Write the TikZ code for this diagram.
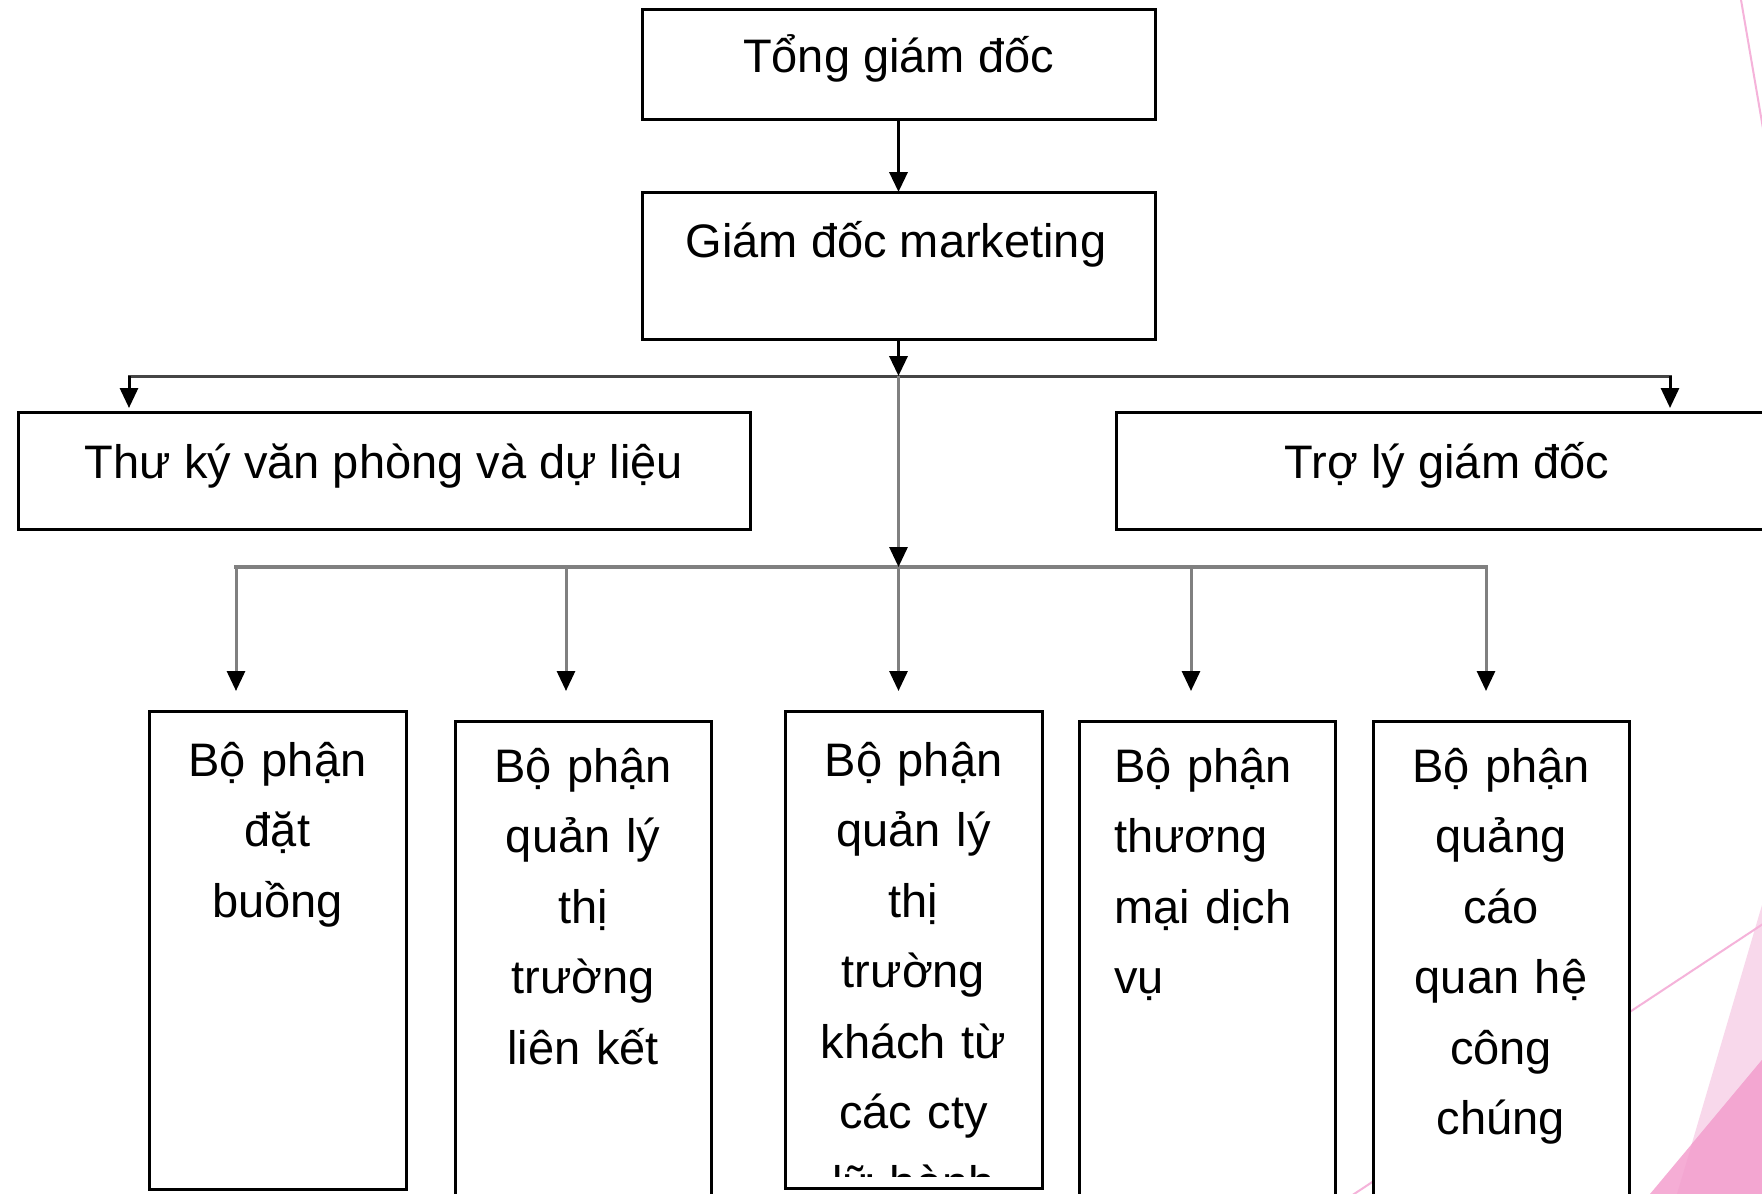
\documentclass[tikz,border=0pt]{standalone}
\usepackage{fontspec}
\setmainfont{Liberation Sans}
\usetikzlibrary{arrows.meta}
\definecolor{pinkline}{HTML}{F5B3DA}
\definecolor{pinklight}{HTML}{F8D8EB}
\definecolor{pinkmid}{HTML}{F5ADD5}
\definecolor{pinkdark}{HTML}{F3A6D1}
\definecolor{darkline}{HTML}{454545}
\definecolor{grayline}{HTML}{808080}
\begin{document}
\begin{tikzpicture}[x=1pt,y=-1pt,
  box/.style={draw=black, line width=3pt, fill=white, inner sep=0pt, outer sep=0pt, rectangle},
  txt/.style={font=\fontsize{47pt}{70.5pt}\selectfont, inner sep=0pt, outer sep=0pt},
  mtxt/.style={txt, text width=250pt, align=center},
  arr/.style={line width=3.5pt, draw=black, -{Triangle[length=20pt,width=18pt]}},
  garr/.style={line width=3pt, draw=grayline, -{Triangle[length=20pt,width=18pt,color=black]}},
  hline/.style={line width=3pt, draw=darkline, line cap=rect},
  gline/.style={line width=4pt, draw=grayline, line cap=rect},
  deco/.style={draw=pinkline, line width=2pt}
]
\clip (0,0) rectangle (1762,1194);
\fill[white] (0,0) rectangle (1762,1194);

% background decoration
\fill[pinklight] (1762,905) -- (1677,1194) -- (1762,1194) -- cycle;
\fill[pinkmid] (1762,1060) -- (1650,1194) -- (1762,1194) -- cycle;
\fill[pinkdark] (1762,1060) -- (1692,1144) -- (1677,1194) -- (1762,1194) -- cycle;
\draw[deco] (1740,-6) -- (1766,146);
\draw[deco] (1772,918) -- (1345,1200);

% boxes
\node[box, minimum width=513pt, minimum height=110pt] (tgd) at (898.5,64) {};
\node[box, minimum width=513pt, minimum height=147pt] (gdm) at (898.5,265.5) {};
\node[box, minimum width=732pt, minimum height=117pt] (tk) at (384,470.5) {};
\node[box, minimum width=662pt, minimum height=117pt] (tl) at (1447,470.5) {};
\node[box, minimum width=257pt, minimum height=478pt] (b1) at (277.5,950) {};
\node[box, minimum width=256pt, minimum height=489pt] (b2) at (583,965.5) {};
\node[box, minimum width=257pt, minimum height=477pt] (b3) at (913.5,949.5) {};
\node[box, minimum width=256pt, minimum height=489pt] (b4) at (1207,965.5) {};
\node[box, minimum width=256pt, minimum height=489pt] (b5) at (1501,965.5) {};

% texts
\node[txt, anchor=base] (tgdt) at (898.5,72) {Tổng giám đốc};
\node[txt, anchor=base] (gdmt) at (896,257) {Giám đốc marketing};
\node[txt, anchor=base] (tkt) at (384,478) {Thư ký văn phòng và dự liệu};
\node[txt, anchor=base] (tlt) at (1447,478) {Trợ lý giám đốc};
\node[mtxt, anchor=base] (b1t) at (277.5,776) {Bộ phận\\đặt\\buồng};
\node[mtxt, anchor=base] (b2t) at (583,782) {Bộ phận\\quản lý\\thị\\trường\\liên kết};
\begin{scope}
\clip (785,711) rectangle (1042,1176);
\node[mtxt, anchor=base] (b3t) at (913.5,776) {Bộ phận\\quản lý\\thị\\trường\\khách từ\\các cty\\lữ hành};
\end{scope}
\node[txt, text width=220pt, align=left, anchor=base west] (b4t) at (1114,782) {Bộ phận\\thương\\mại dịch\\vụ};
\node[mtxt, anchor=base] (b5t) at (1501,782) {Bộ phận\\quảng\\cáo\\quan hệ\\công\\chúng};

% junction coordinates
\coordinate (j1) at (898.5,376);
\coordinate (l1) at (129,376);
\coordinate (r1) at (1670,376);
\coordinate (j2) at (898.5,567);
\coordinate (s1) at (236,567);
\coordinate (s2) at (566,567);
\coordinate (s3) at (898.5,567);
\coordinate (s4) at (1191,567);
\coordinate (s5) at (1486,567);
\coordinate (t1) at (236,691);
\coordinate (t2) at (566,691);
\coordinate (t3) at (898.5,691);
\coordinate (t4) at (1191,691);
\coordinate (t5) at (1486,691);

% connectors
\draw[arr] (tgd.south) -- (gdm.north);
\draw[hline] (l1) -- (r1);
\draw[gline] (s1) -- (s5);
\draw[arr] (gdm.south) -- (j1);
\draw[arr, line width=3pt, shorten >=4pt] (l1) -- (l1 |- tk.north);
\draw[arr, line width=3pt, shorten >=4pt] (r1) -- (r1 |- tl.north);
\draw[garr] (j1) -- (j2);
\foreach \i in {1,...,5} { \draw[garr] (s\i) -- (t\i); }
\end{tikzpicture}
\end{document}
